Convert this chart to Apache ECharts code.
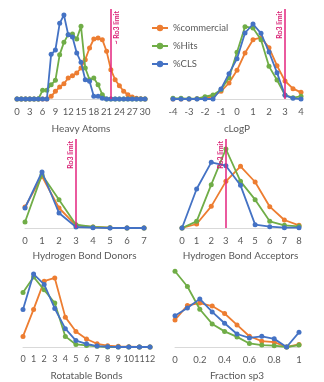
<!DOCTYPE html>
<html><head><meta charset="utf-8">
<script src="https://cdn.jsdelivr.net/npm/echarts@6/dist/echarts.min.js"></script>
<style>html,body{margin:0;padding:0;background:#fff}#c{width:324px;height:382px}</style>
</head><body><div id="c"></div>
<script>
// ---- data (arbitrary % units) ----
const seriesNames = ['%commercial', '%Hits', '%CLS'];
const colors = ['#ED7D31', '#70AD47', '#4472C4'];

const heavyX = [0,1,2,3,4,5,6,7,8,9,10,11,12,13,14,15,16,17,18,19,20,21,22,23,24,25,26,27,28,29,30];
const heavyCommercial = [0,0,0,0,0,0,0,0,0.8,2.3,3.6,4.6,6.3,7.0,7.8,9.3,11.8,15.3,18.0,18.3,17.8,14.3,8.8,5.8,4.0,2.3,1.3,0.6,0.2,0.1,0];
const heavyHits = [0,0,0,0,0,0,2.6,2.6,4.3,5.6,13.3,17.0,19.3,19.5,18.0,21.8,9.3,5.8,6.3,4.3,1.3,0,0,0,0,0,0,0,0,0,0];
const heavyCLS = [0,0,0,0,0,0,0,0,13.4,14.7,22.7,25.2,19.3,18.6,13.8,11.0,5.8,5.3,0.8,0.8,0.2,0,0,0,0,0,0,0,0,0,0];

const clogpX = [-4,-3.5,-3,-2.5,-2,-1.5,-1,-0.5,0,0.5,1,1.5,2,2.5,3,3.5,4];
const clogpCommercial = [0,0,0,0.1,0.3,0.8,2.3,4.8,8.6,13.8,17.8,18.4,15.4,10.0,5.4,3.1,2.0];
const clogpHits = [0.2,0.2,0.1,0.1,0.7,1.2,2.8,6.4,14.0,21.7,21.3,17.8,9.8,5.7,1.2,0.4,0.8];
const clogpCLS = [0,0,0,0,0,0,3.0,7.6,12.1,19.8,22.5,19.7,14.1,7.9,1.1,0.2,0];

const hbdX = [0,1,2,3,4,5,6,7];
const hbdCommercial = [6.3,15.5,6.0,0.8,0.3,0.1,0,0];
const hbdHits = [1.8,16.0,8.5,1.0,0.3,0.1,0,0];
const hbdCLS = [6.0,16.8,4.5,0.3,0.1,0,0,0];

const hbaX = [0,1,2,3,4,5,6,7,8];
const hbaCommercial = [0,1.2,6.5,14.0,18.5,13.8,6.4,2.4,0.8];
const hbaHits = [0,2.0,13.0,23.7,14.0,8.5,2.0,0.8,0.5];
const hbaCLS = [0,11.7,19.7,18.7,12.8,1.0,0.4,0.1,0.1];

const rotX = [0,1,2,3,4,5,6,7,8,9,10,11,12];
const rotCommercial = [3.3,11.7,20.5,21.5,9.3,4.8,2.5,1.0,0.4,0.2,0.1,0,0];
const rotHits = [17.0,21.8,17.8,13.7,3.3,0.8,0.5,0.2,0,0,0,0,0];
const rotCLS = [11.7,22.7,19.5,12.0,5.7,2.0,1.0,0.3,0.1,0,0,0,0];

const fsp3X = [0,0.1,0.2,0.3,0.4,0.5,0.6,0.7,0.8,0.9,1.0];
const fsp3Commercial = [8.3,12.8,13.5,12.6,10.3,6.8,3.3,1.8,1.5,0,0.8];
const fsp3Hits = [23.3,18.6,11.6,7.1,4.8,3.1,1.1,0.6,0.4,0,0.6];
const fsp3CLS = [9.6,12.0,14.8,10.8,7.3,4.0,2.8,3.3,2.5,0,4.5];

const panelTitles = ['Heavy Atoms','cLogP','Hydrogen Bond Donors','Hydrogen Bond Acceptors','Rotatable Bonds','Fraction sp3'];
const limitLabels = ['~ Ro3 limit','Ro3 limit','Ro3 limit','Ro3 limit'];
const limitValues = [22, 3, 3, 3];

// ---- layout ----
const FONT = 'Lato';
const TXT = '#595959';
const panels = [
  {x: heavyX, d:[heavyCommercial,heavyHits,heavyCLS], g:{left:17,top:9,width:128,height:90}, min:0,max:30,interval:3,ymax:27,gap:25, lim:0, side:'insideEndBottom', fs:9.5},
  {x: clogpX, d:[clogpCommercial,clogpHits,clogpCLS], g:{left:173,top:9,width:128,height:90}, min:-4,max:4,interval:1,ymax:27,gap:25, lim:1, side:'insideEndTop', fs:9.5},
  {x: hbdX, d:[hbdCommercial,hbdHits,hbdCLS], g:{left:25,top:139,width:119,height:89}, min:0,max:7,interval:1,ymax:26.7,gap:23, lim:2, side:'insideEndTop', fs:9.5},
  {x: hbaX, d:[hbaCommercial,hbaHits,hbaCLS], g:{left:182,top:139,width:117,height:89}, min:0,max:8,interval:1,ymax:26.7,gap:23, lim:3, side:'insideEndTop', fs:9.5},
  {x: rotX, d:[rotCommercial,rotHits,rotCLS], g:{left:23,top:268,width:127,height:82}, min:0,max:12,interval:1,ymax:24.6,gap:24, lim:-1, fs:9},
  {x: fsp3X, d:[fsp3Commercial,fsp3Hits,fsp3CLS], g:{left:175,top:268,width:124,height:81}, min:0,max:1,interval:0.2,ymax:24.3,gap:24, lim:-1, fs:9.5}
];

const grid=[], xAxis=[], yAxis=[], series=[];
panels.forEach((p,i)=>{
  grid.push(Object.assign({containLabel:false}, p.g));
  xAxis.push({type:'value', gridIndex:i, min:p.min, max:p.max, interval:p.interval,
    name: panelTitles[i], nameLocation:'middle', nameGap:p.gap,
    nameTextStyle:{color:TXT, fontFamily:FONT, fontSize:10},
    axisLine:{show:true, onZero:false, lineStyle:{color:'#D9D9D9', width:1}},
    axisTick:{show:false}, splitLine:{show:false},
    axisLabel:{color:TXT, fontFamily:FONT, fontSize:p.fs, margin:8, hideOverlap:false, showMinLabel:true, showMaxLabel:true}});
  yAxis.push({type:'value', gridIndex:i, min:0, max:p.ymax, show:false, splitLine:{show:false}});
  p.d.forEach((vals,s)=>{
    const ser = {type:'line', name:seriesNames[s], xAxisIndex:i, yAxisIndex:i,
      data: p.x.map((xv,k)=>[xv, vals[k]]),
      symbol:'circle', symbolSize:5, showSymbol:true,
      lineStyle:{width:1.8, color:colors[s]}, itemStyle:{color:colors[s]},
      z: 2+s, animation:false};
    if (s===0 && p.lim>=0) {
      ser.markLine = {silent:true, symbol:['none','none'], animation:false,
        lineStyle:{color:'#E3237E', width:1.5, type:'solid'},
        label:{show:true, position:p.side, formatter:limitLabels[p.lim], color:'#D81B72',
          fontFamily:FONT, fontSize:7, fontWeight:'bold', distance:2},
        data:[{xAxis:limitValues[p.lim]}]};
    }
    series.push(ser);
  });
});

const chart = echarts.init(document.getElementById('c'), null, {renderer:'canvas'});
chart.setOption({
  animation:false,
  color: colors,
  grid, xAxis, yAxis, series,
  legend:{orient:'vertical', left:146, top:18, itemGap:8, itemWidth:16, itemHeight:8,
    data: seriesNames,
    textStyle:{color:TXT, fontFamily:FONT, fontSize:9.5}}
});
</script></body></html>
